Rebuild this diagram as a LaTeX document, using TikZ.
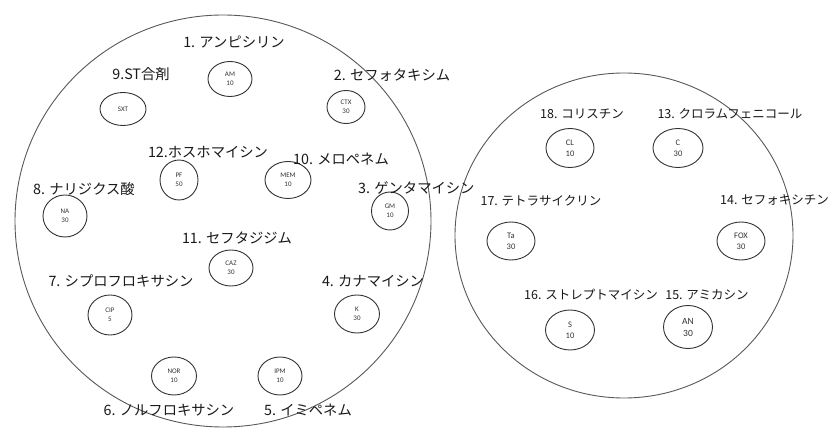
\documentclass[tikz,border=0pt]{standalone}
\usepackage{fontspec}
\setmainfont{Carlito}
\newfontfamily\jp{Noto Sans CJK JP}
\usetikzlibrary{shapes.geometric}
\begin{document}
\begin{tikzpicture}[x=1pt,y=-1pt,
  dish/.style={draw=black!65, line width=0.9pt, ellipse, inner sep=0},
  disk/.style={draw=black!80, line width=0.9pt, ellipse, inner sep=0, align=center,
    font=\fontsize{7}{9}\selectfont, text=black!80},
  diskR/.style={disk, font=\fontsize{8.5}{11}\selectfont},
  lbl/.style={inner sep=0, font=\jp\fontsize{14.3}{16}\selectfont, text=black!90},
  lblR/.style={lbl, font=\jp\fontsize{12.5}{14}\selectfont}]
\useasboundingbox[fill=white] (0,0) rectangle (831,430);
% plates
\node[dish, minimum width=416pt, minimum height=412pt] (dishL) at (223,221) {};
\node[dish, minimum width=338pt, minimum height=325pt] (dishR) at (624,235.5) {};
% left plate disks
\node[disk, minimum width=44pt, minimum height=35pt] (cAM) at (230,79) {AM\\10};
\node[disk, minimum width=46pt, minimum height=33pt] (cSXT) at (123,109) {SXT};
\node[disk, minimum width=38pt, minimum height=33pt] (cCTX) at (346,107) {CTX\\30};
\node[disk, minimum width=38pt, minimum height=40pt] (cPF) at (179,180) {PF\\50};
\node[disk, minimum width=46pt, minimum height=37pt] (cMEM) at (288,180) {MEM\\10};
\node[disk, minimum width=44pt, minimum height=42pt] (cNA) at (65,216) {NA\\30};
\node[disk, minimum width=37pt, minimum height=38pt] (cGM) at (390,211) {GM\\10};
\node[disk, minimum width=44pt, minimum height=36pt] (cCAZ) at (231,268) {CAZ\\30};
\node[disk, minimum width=44pt, minimum height=40pt] (cCIP) at (110,315) {CIP\\5};
\node[disk, minimum width=45pt, minimum height=38pt] (cK) at (357,314) {K\\30};
\node[disk, minimum width=45pt, minimum height=38pt] (cNOR) at (174,376) {NOR\\10};
\node[disk, minimum width=44pt, minimum height=38pt] (cIPM) at (280,376) {IPM\\10};
% right plate disks
\node[diskR, minimum width=48pt, minimum height=39pt] (cCL) at (570,148) {CL\\10};
\node[diskR, minimum width=50pt, minimum height=39pt] (cC) at (678,148) {C\\30};
\node[diskR, minimum width=48pt, minimum height=38pt] (cTa) at (511,241) {Ta\\30};
\node[diskR, minimum width=48pt, minimum height=38pt] (cFOX) at (741,241) {FOX\\30};
\node[diskR, minimum width=49pt, minimum height=40pt] (cS) at (570,330) {S\\10};
\node[diskR, minimum width=49pt, minimum height=43pt, font=\fontsize{9.5}{12}\selectfont] (cAN) at (688,327) {AN\\30};
% labels, left plate
\node[lbl] (lAM) at (234,42) {1. アンピシリン};
\node[lbl] (lSXT) at (141,74) {9.ST合剤};
\node[lbl] (lCTX) at (392,75) {2. セフォタキシム};
\node[lbl] (lPF) at (208,152) {12.ホスホマイシン};
\node[lbl] (lMEM) at (341,159) {10. メロペネム};
\node[lbl] (lNA) at (84,189) {8. ナリジクス酸};
\node[lbl, anchor=west] (lGM) at (358,188) {3. ゲンタマイシン};
\node[lbl] (lCAZ) at (237,238) {11. セフタジジム};
\node[lbl] (lCIP) at (121,281) {7. シプロフロキサシン};
\node[lbl] (lK) at (373,281) {4. カナマイシン};
\node[lbl] (lNOR) at (169,410) {6. ノルフロキサシン};
\node[lbl] (lIPM) at (308,410) {5. イミペネム};
% labels, right plate
\node[lblR] (lCL) at (582,114) {18. コリスチン};
\node[lblR] (lC) at (730,114) {13. クロラムフェニコール};
\node[lblR] (lTa) at (541,201) {17. テトラサイクリン};
\node[lblR, anchor=east] (lFOX) at (829,200) {14. セフォキシチン};
\node[lblR] (lS) at (591,295) {16. ストレプトマイシン};
\node[lblR] (lAN) at (707,295) {15. アミカシン};
\end{tikzpicture}
\end{document}
